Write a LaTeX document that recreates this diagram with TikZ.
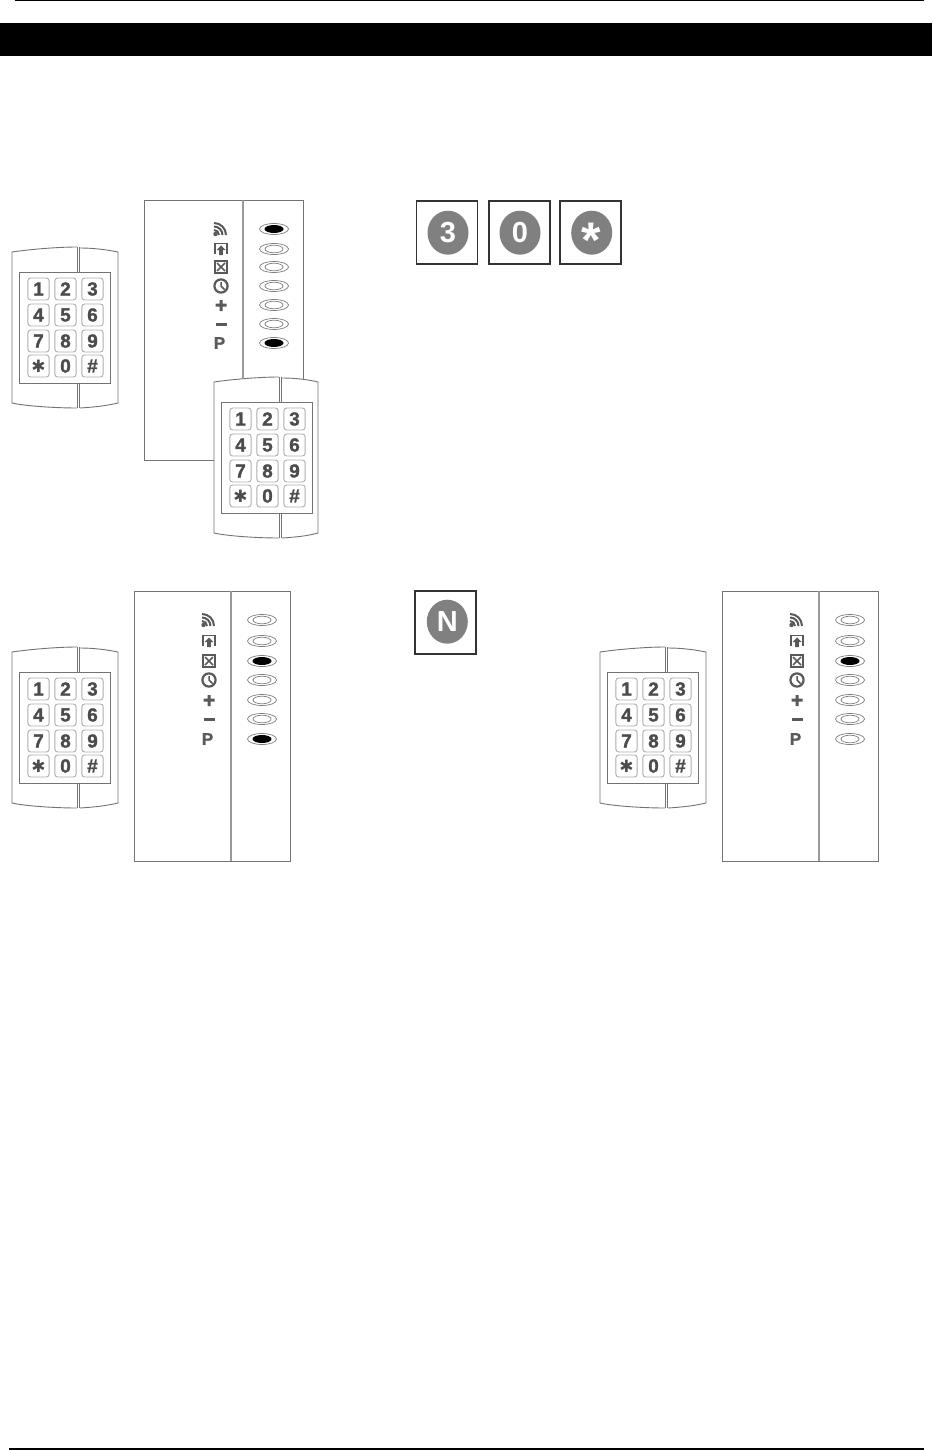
\documentclass[tikz,border=0pt]{standalone}
\usepackage{fontspec}
\usetikzlibrary{shapes.geometric}
\setmainfont{Liberation Sans}
\newfontfamily\djv{DejaVu Sans}
\newfontfamily\keyfont[FakeBold=1.4]{Liberation Sans Bold}
\tikzset{
  x=0.5pt,y=-0.5pt,
  rulefine/.style={line width=0.6pt,black},
  outline/.style={line width=0.45pt,draw=black!55},
  divider/.style={line width=0.9pt,draw=black!40},
  keycap/.style={draw=black!32,line width=0.45pt,rounded corners=1.4pt,minimum width=10.6pt,minimum height=11pt,inner sep=0pt,font=\fontsize{9.5}{9.5}\keyfont,text=black!70},
  ledout/.style={draw=black!50,line width=0.35pt,fill=white},
  icontext/.style={font=\fontsize{8.5}{8.5}\keyfont,text=black!65,inner sep=0pt},
  iconline/.style={draw=black!65,line width=0.75pt},
  btnbox/.style={draw=black!80,line width=0.7pt,fill=white,minimum width=30.5pt,minimum height=31.5pt,inner sep=0pt},
  btncircle/.style={ellipse,fill=black!50,minimum width=20.5pt,minimum height=22pt,inner sep=0pt,text=white,font=\fontsize{14.5}{14.5}\selectfont\bfseries},
}
% keypad: #1 name, #2 x offset, #3 y offset, #4 right edge
\newcommand{\keypadat}[4]{%
 \begin{scope}[shift={(#2,#3)}]
  \path[fill=white] (12,252) .. controls (35,248) and (55,247) .. (78,247) .. controls (90,247) and (105,249) .. (#4,252) -- (#4,403) .. controls (105,406) and (90,408) .. (78,408) .. controls (55,408) and (35,406) .. (12,403) -- cycle;
  \draw[outline] (12,403) -- (12,252) .. controls (25,250) and (55,247) .. (77,247);
  \draw[outline] (80,248) .. controls (95,248) and (108,250) .. (#4,252) -- (#4,403) .. controls (105,406) and (95,407) .. (80,408);
  \draw[outline] (12,403) .. controls (25,406) and (55,408) .. (77,408);
  \draw[outline] (77,247) -- (77,272) (79.5,247) -- (79.5,272) (77,383) -- (77,408) (79.5,383) -- (79.5,408);
  \draw[outline] (19.5,272) rectangle (110,383);
  \foreach \lab/\cx/\cy [count=\n] in {1/38.5/289,2/65.5/289,3/92.5/289,4/38.5/315,5/65.5/315,6/92.5/315,7/38.5/341,8/65.5/341,9/92.5/341,{\fontsize{8.5}{8.5}\djv\char"2731}/38.5/366,0/65.5/366,\#/92.5/366}
   \node[keycap] (#1k\n) at (\cx,\cy) {\lab};
 \end{scope}}
% panel: #1 left #2 top #3 right #4 bottom #5 divider x
\newcommand{\panelbody}[5]{%
  \draw[outline] (#1,#2) rectangle (#3,#4);
  \draw[divider] (#5,#2) -- (#5,#4);
}
% icons: #1 name, #2 icon x, #3-#9 rows
\newcommand{\iconrow}[9]{%
 \begin{scope}[shift={(#2,0)}]
  \fill[black!65] (-5.5,#3+5) circle (1.1pt);
  \foreach \rr in {5,8.5,12}
    \draw[iconline,line width=1pt] (-7,#3+6-\rr) arc[start angle=-90,end angle=0,radius=\rr];
  \draw[iconline] (-6,#4+5) -- (-6,#4-5.5) -- (6,#4-5.5) -- (6,#4+5);
  \fill[black!65] (0,#4-3.5) -- (4.5,#4+1) -- (1.8,#4+1) -- (1.8,#4+6) -- (-1.8,#4+6) -- (-1.8,#4+1) -- (-4.5,#4+1) -- cycle;
  \draw[iconline] (-6,#5-6) rectangle (6,#5+6);
  \draw[iconline] (-4,#5-4) -- (4,#5+4) (-4,#5+4) -- (4,#5-4);
  \draw[iconline,line width=1.1pt] (0,#6) circle (3.3pt);
  \draw[iconline] (0,#6-4) -- (0,#6) -- (3.5,#6+3.5);
  \fill[black!65] (-5.5,#7-1.5) -- (-1.5,#7-1.5) -- (-1.5,#7-5) -- (1.5,#7-5) -- (1.5,#7-1.5) -- (5.5,#7-1.5) -- (5.5,#7+1.5) -- (1.5,#7+1.5) -- (1.5,#7+6) -- (-1.5,#7+6) -- (-1.5,#7+1.5) -- (-5.5,#7+1.5) -- cycle;
  \fill[black!65] (-5.5,#8-1.5) rectangle (5.5,#8+1.5);
  \node[icontext] (#1P) at (-1.5,#9) {P};
 \end{scope}}
\newcommand{\ledat}[3]{% x y lit
  \draw[ledout] (#1,#2) ellipse [x radius=14.5,y radius=5.5];
  \ifnum#3=1 \fill[black] (#1,#2) ellipse [x radius=9.5,y radius=4];
  \else \draw[ledout] (#1,#2) ellipse [x radius=9,y radius=3.8]; \fi
}
\begin{document}
\begin{tikzpicture}
\useasboundingbox (0,0) rectangle (932,1450);
\fill[white] (0,0) rectangle (932,1450);
\coordinate (tl) at (15,0.7); \coordinate (tr) at (924,0.7);
\coordinate (bl) at (9,1449); \coordinate (br) at (924,1449);
\draw[rulefine] (tl) -- (tr);
\draw[rulefine] (bl) -- (br);
\fill[black] (0,23) rectangle (932,56.5);

% --- upper left
\keypadat{a}{0}{0}{118}
\panelbody{144}{200}{303}{460}{243}
\iconrow{ia}{221}{229}{249}{267}{286}{305}{324}{343}
\ledat{274}{229}{1}\ledat{274}{249}{0}\ledat{274}{267}{0}\ledat{274}{286}{0}\ledat{274}{305}{0}\ledat{274}{324}{0}\ledat{274}{343}{1}
\keypadat{b}{202}{130}{116}

% --- buttons
\node[btnbox] (b3) at (447,232.5) {}; \node[btncircle] (c3) at (448,232.7) {3};
\node[btnbox] (b0) at (519.5,232.5) {}; \node[btncircle] (c0) at (520,232.7) {0};
\node[btnbox] (bs) at (590.5,232.5) {}; \node[btncircle] (cs) at (591.7,232.7) {\raisebox{-12.6pt}[0pt][0pt]{\fontsize{25}{25}\selectfont *}};
\node[btnbox] (bn) at (445.5,622.3) {}; \node[btncircle] (cn) at (447.3,621.7) {N};

% --- lower left
\keypadat{c}{0}{400}{118}
\panelbody{134}{591}{290}{861}{231}
\iconrow{ic}{209}{620}{641}{661}{680}{700}{719}{739}
\ledat{262}{620}{0}\ledat{262}{641}{0}\ledat{262}{661}{1}\ledat{262}{680}{0}\ledat{262}{700}{0}\ledat{262}{719}{0}\ledat{262}{739}{1}

% --- lower right
\keypadat{d}{588}{400}{118}
\panelbody{722}{591}{878}{861}{819}
\iconrow{id}{797}{620}{641}{661}{680}{700}{719}{739}
\ledat{850}{620}{0}\ledat{850}{641}{0}\ledat{850}{661}{1}\ledat{850}{680}{0}\ledat{850}{700}{0}\ledat{850}{719}{0}\ledat{850}{739}{0}
\end{tikzpicture}
\end{document}
